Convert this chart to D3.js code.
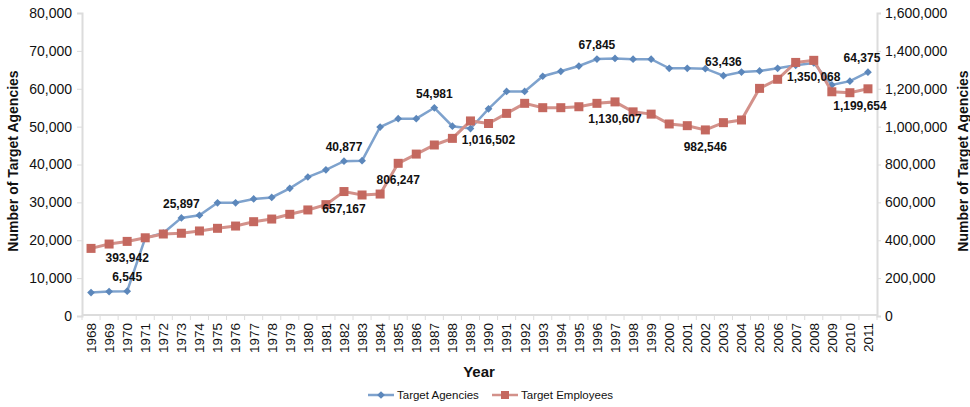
<!DOCTYPE html>
<html>
<head>
<meta charset="utf-8">
<script src="https://cdn.jsdelivr.net/npm/d3@7/dist/d3.min.js"></script>
<style>
  html, body { margin: 0; padding: 0; background: #fff; }
  svg { display: block; font-family: "Liberation Sans", Arial, Helvetica, sans-serif; }
</style>
</head>
<body>
<svg id="chart" width="970" height="407"></svg>
<script>
const years = [1968,1969,1970,1971,1972,1973,1974,1975,1976,1977,1978,1979,1980,1981,1982,1983,1984,1985,1986,1987,1988,1989,1990,1991,1992,1993,1994,1995,1996,1997,1998,1999,2000,2001,2002,2003,2004,2005,2006,2007,2008,2009,2010,2011];
const agencies = [6200,6450,6545,20600,21900,25897,26600,29900,29900,30900,31300,33700,36700,38600,40877,41000,49900,52100,52100,54981,50100,49500,54700,59300,59300,63300,64600,66000,67845,68000,67800,67800,65400,65400,65300,63436,64400,64700,65400,66200,66800,61000,62000,64375];
const employees = [357000,380000,393942,413000,433000,437000,449000,463000,475000,498000,512000,537000,560000,588000,657167,639000,644000,806247,855000,903000,938000,1030000,1016502,1070000,1123000,1100000,1100000,1105000,1123000,1130607,1078000,1066000,1014000,1005000,982546,1021000,1035000,1202000,1250000,1339000,1350068,1184000,1179000,1199654];
const leftTicks = [0,10000,20000,30000,40000,50000,60000,70000,80000];
const rightTicks = [0,200000,400000,600000,800000,1000000,1200000,1400000,1600000];
const agencyLabelYears = [1970,1973,1982,1987,1996,2003,2011];
const employeeLabelYears = [1970,1982,1985,1990,1997,2002,2008,2011];
const seriesNames = ["Target Agencies","Target Employees"];
const leftTitle = "Number of Target Agencies";
const rightTitle = "Number of Target Agencies";
const xTitle = "Year";

const svg = d3.select("#chart");
const X0 = 82, X1 = 877, Y0 = 316, Y1 = 13;
const fmt = d3.format(",");

const x = d3.scaleBand().domain(years).range([X0, X1]).paddingInner(0).paddingOuter(0);
const cx = d => x(d) + x.bandwidth() / 2;
const yL = d3.scaleLinear().domain([0, 80000]).range([Y0, Y1]);
const yR = d3.scaleLinear().domain([0, 1600000]).range([Y0, Y1]);

const defs = svg.append("defs");
const f = defs.append("filter").attr("id", "soft").attr("x", "-20%").attr("y", "-20%").attr("width", "140%").attr("height", "140%");
f.append("feGaussianBlur").attr("stdDeviation", 0.7);

const axisColor = "#dcdcdc";

// Left axis
const gL = svg.append("g").attr("transform", `translate(${X0},0)`)
  .call(d3.axisLeft(yL).tickValues(leftTicks).tickFormat(fmt).tickSize(5).tickPadding(5));
gL.select(".domain").attr("stroke", axisColor).attr("stroke-width", 2);
gL.selectAll(".tick line").attr("stroke", axisColor);
gL.selectAll(".tick text").attr("font-size", 14).attr("fill", "#111");

// Right axis
const gR = svg.append("g").attr("transform", `translate(${X1},0)`)
  .call(d3.axisRight(yR).tickValues(rightTicks).tickFormat(fmt).tickSize(4).tickPadding(4));
gR.select(".domain").attr("stroke", axisColor).attr("stroke-width", 2);
gR.selectAll(".tick line").attr("stroke", axisColor);
gR.selectAll(".tick text").attr("font-size", 14).attr("fill", "#111");

// X axis
const gX = svg.append("g");
gX.append("line").attr("x1", X0).attr("x2", X1).attr("y1", Y0 - 1).attr("y2", Y0 - 1)
  .attr("stroke", axisColor).attr("stroke-width", 2);
gX.selectAll("line.tk").data(years.concat([null])).join("line").attr("class", "tk")
  .attr("x1", d => d === null ? X1 : x(d)).attr("x2", d => d === null ? X1 : x(d))
  .attr("y1", Y0 - 1).attr("y2", Y0 + 4).attr("stroke", axisColor).attr("stroke-width", 1);
gX.selectAll("text").data(years).join("text")
  .attr("transform", d => `translate(${cx(d)},${Y0 + 7}) rotate(-90)`)
  .attr("text-anchor", "end").attr("dy", "0.36em")
  .attr("font-size", 13.5).attr("fill", "#111").text(d => d);

// Titles
svg.append("text").attr("transform", `translate(18,161) rotate(-90)`)
  .attr("text-anchor", "middle").attr("font-size", 14).attr("font-weight", "bold").attr("fill", "#111").text(leftTitle);
svg.append("text").attr("transform", `translate(968,161) rotate(-90)`)
  .attr("text-anchor", "middle").attr("font-size", 14).attr("font-weight", "bold").attr("fill", "#111").text(rightTitle);
svg.append("text").attr("x", 479).attr("y", 377)
  .attr("text-anchor", "middle").attr("font-size", 15).attr("font-weight", "bold").attr("fill", "#111").text(xTitle);

const blueLine = "#7ea2cd", blueMark = "#5b87bb";
const redLine = "#d3918a", redMark = "#c4675e";

const marks = svg.append("g").attr("filter", "url(#soft)");

const empData = years.map((yr, i) => ({ yr, v: employees[i] }));
const agData = years.map((yr, i) => ({ yr, v: agencies[i] }));

// Agencies line (left axis)
marks.append("path").datum(agData)
  .attr("d", d3.line().x(d => cx(d.yr)).y(d => yL(d.v)))
  .attr("fill", "none").attr("stroke", blueLine).attr("stroke-width", 2.5);
marks.selectAll("path.dia").data(agData).join("path").attr("class", "dia")
  .attr("d", d3.symbol(d3.symbolSquare, 30)())
  .attr("transform", d => `translate(${cx(d.yr)},${yL(d.v)}) rotate(45)`)
  .attr("fill", blueMark);

// Employees line (right axis)
marks.append("path").datum(empData)
  .attr("d", d3.line().x(d => cx(d.yr)).y(d => yR(d.v)))
  .attr("fill", "none").attr("stroke", redLine).attr("stroke-width", 3);
marks.selectAll("path.sq").data(empData).join("path").attr("class", "sq")
  .attr("d", d3.symbol(d3.symbolSquare, 81)())
  .attr("transform", d => `translate(${cx(d.yr)},${yR(d.v)})`)
  .attr("fill", redMark);

// Data labels
const lastYear = years[years.length - 1];
const lab = svg.append("g").attr("font-size", 12).attr("font-weight", "bold").attr("fill", "#111").attr("text-anchor", "middle");
agencyLabelYears.forEach(yr => {
  const i = years.indexOf(yr);
  lab.append("text").attr("x", cx(yr) + (yr === lastYear ? -6 : 0)).attr("y", yL(agencies[i]) - 10).text(fmt(agencies[i]));
});
employeeLabelYears.forEach(yr => {
  const i = years.indexOf(yr);
  lab.append("text").attr("x", cx(yr) + (yr === lastYear ? -8 : 0)).attr("y", yR(employees[i]) + 21).text(fmt(employees[i]));
});

// Legend
const leg = svg.append("g").attr("filter", "url(#soft)");
const legItems = [
  { name: seriesNames[0], x: 368, line: blueLine, mark: blueMark, size: 30, rot: 45 },
  { name: seriesNames[1], x: 492, line: redLine, mark: redMark, size: 64, rot: 0 }
];
legItems.forEach(it => {
  leg.append("line").attr("x1", it.x).attr("x2", it.x + 26).attr("y1", 395).attr("y2", 395)
    .attr("stroke", it.line).attr("stroke-width", 2.5);
  leg.append("path").attr("d", d3.symbol(d3.symbolSquare, it.size)())
    .attr("transform", `translate(${it.x + 13},395) rotate(${it.rot})`).attr("fill", it.mark);
  svg.append("text").attr("x", it.x + 29).attr("y", 399).attr("font-size", 11.5).attr("fill", "#111").text(it.name);
});
</script>
</body>
</html>
